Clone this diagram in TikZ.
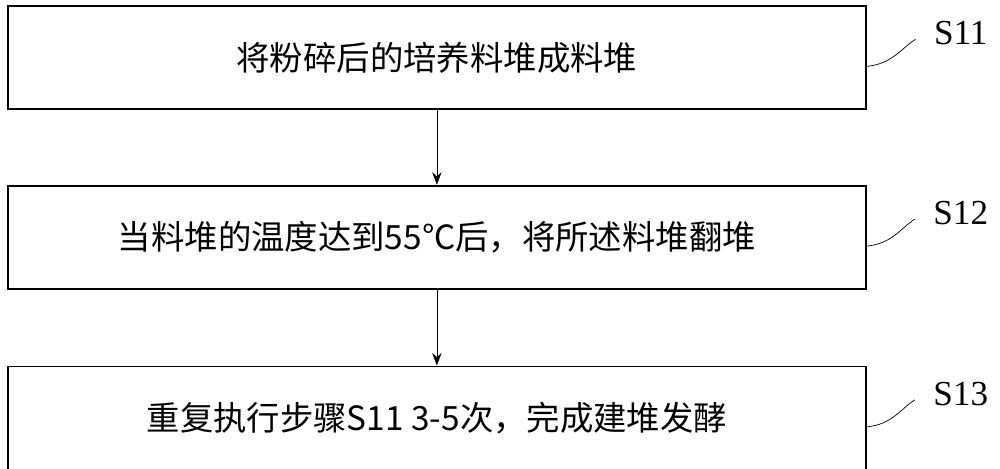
\documentclass[tikz,border=0pt]{standalone}
\usepackage{fontspec}
\setmainfont{Liberation Serif}
\newfontfamily\cjk{Noto Sans CJK SC}
\usetikzlibrary{arrows.meta, positioning}

\begin{document}
\begin{tikzpicture}[>={Stealth[length=2.5mm]}]
    \useasboundingbox (0,0) rectangle (20,-9.38);
    \begin{scope}[every node/.style={draw, line width=1pt, minimum width=17.16cm,
        minimum height=2.06cm, inner sep=0mm, font=\cjk\fontsize{19}{21}\selectfont}]
        \node[anchor=north west] at (0.14,-0.1) (stepa) {将粉碎后的培养料堆成料堆};
        \node[below=1.5cm of stepa] (stepb) {当料堆的温度达到55℃后，将所述料堆翻堆};
        \node[below=1.52cm of stepb] (stepc) {重复执行步骤S11 3-5次，完成建堆发酵};
    \end{scope}
    \draw[->] (stepa) -- (stepb);
    \draw[->] (stepb) -- (stepc);
    % step labels with curly leaders
    \foreach \n/\lbl in {stepa/S11, stepb/S12, stepc/S13}{
        \node[font=\fontsize{20}{22}\selectfont] (lab\lbl) at ([xshift=1.88cm,yshift=0.48cm]\n.east) {\lbl};
        \draw ([yshift=-0.18cm]\n.east) .. controls +(0.5,0.05) and +(-0.3,-0.2) .. ([xshift=-0.25cm,yshift=-0.12cm]lab\lbl.west);
    }
\end{tikzpicture}
\end{document}
